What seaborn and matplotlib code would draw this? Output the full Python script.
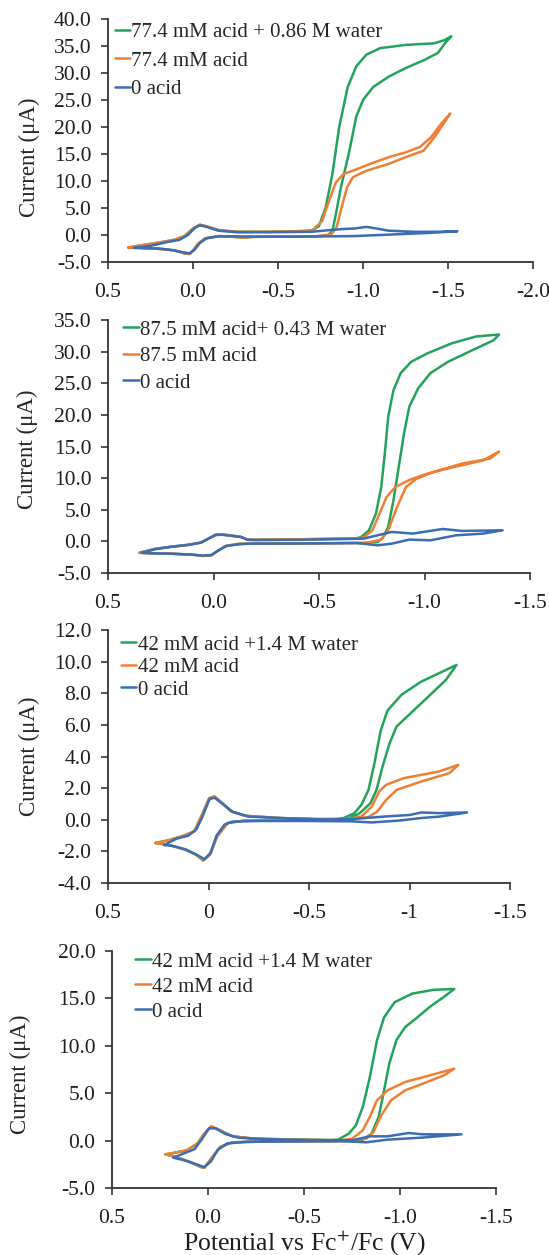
import numpy as np
import pandas as pd
import matplotlib
matplotlib.use("Agg")
import matplotlib.pyplot as plt
import seaborn as sns

# ---------------- data (potential V vs Fc+/Fc, current uA) ----------------
# Panel 1
p1_labels = ["77.4 mM acid + 0.86 M water", "77.4 mM acid", "0 acid"]
p1_fc_fwd_E = [0.38, 0.30, 0.20, 0.11, 0.05, 0.00, -0.04, -0.08, -0.15, -0.26, -0.40, -0.55, -0.66]
p1_fc_fwd_I = [-2.3, -1.9, -1.4, -0.9, -0.2, 1.2, 1.9, 1.6, 0.9, 0.6, 0.6, 0.65, 0.75]
p1_fc_rev_E = [-0.72, -0.50, -0.35, -0.30, -0.22, -0.15, -0.07, -0.03, 0.00, 0.02, 0.05, 0.09, 0.15, 0.23, 0.30, 0.38]
p1_fc_rev_I = [-0.25, -0.3, -0.35, -0.5, -0.3, -0.2, -0.65, -1.6, -2.9, -3.5, -3.4, -3.0, -2.7, -2.5, -2.4, -2.3]
p1_green_E = [-0.70, -0.74, -0.78, -0.82, -0.86, -0.91, -0.96, -1.02, -1.10, -1.25, -1.42, -1.48, -1.52,
              -1.49, -1.44, -1.36, -1.25, -1.15, -1.06, -1.00, -0.96, -0.92, -0.87, -0.84, -0.82, -0.79]
p1_green_I = [0.85, 1.6, 5.0, 11.3, 20.0, 27.4, 31.2, 33.4, 34.6, 35.2, 35.5, 36.1, 36.8,
              35.8, 33.7, 32.4, 30.9, 29.3, 27.4, 25.0, 21.9, 15.6, 8.8, 3.8, 0.7, -0.1]
p1_orange_E = [-0.70, -0.76, -0.80, -0.84, -0.885, -0.94, -1.04, -1.15, -1.25, -1.335, -1.40, -1.46, -1.513,
               -1.48, -1.42, -1.356, -1.25, -1.15, -1.02, -0.94, -0.906, -0.874, -0.843, -0.812]
p1_orange_I = [0.8, 2.6, 6.3, 9.7, 11.3, 11.9, 13.15, 14.4, 15.3, 16.3, 18.1, 20.6, 22.5,
               20.9, 18.1, 15.6, 14.4, 13.15, 11.9, 10.7, 8.8, 5.1, 1.3, 0.1]
p1_blue_E = [0.345, 0.25, 0.15, 0.08, 0.03, -0.01, -0.04, -0.08, -0.15, -0.26, -0.45, -0.70, -0.80, -0.88,
             -0.95, -1.02, -1.08, -1.15, -1.30, -1.45, -1.555,
             -1.40, -1.25, -1.10, -0.95, -0.80, -0.60, -0.40, -0.25, -0.15, -0.08, -0.04, -0.01, 0.02,
             0.06, 0.12, 0.20, 0.28, 0.345]
p1_blue_I = [-2.4, -2.0, -1.3, -0.9, 0.0, 1.3, 1.8, 1.5, 0.8, 0.5, 0.5, 0.6, 0.9, 1.1,
             1.2, 1.5, 1.2, 0.8, 0.6, 0.6, 0.7,
             0.4, 0.2, 0.0, -0.2, -0.25, -0.3, -0.3, -0.25, -0.25, -0.6, -1.5, -2.7, -3.4,
             -3.2, -2.8, -2.5, -2.45, -2.4]

# Panel 2
p2_labels = ["87.5 mM acid+ 0.43 M water", "87.5 mM acid", "0 acid"]
p2_fc_fwd_E = [0.35, 0.28, 0.20, 0.12, 0.06, 0.02, -0.01, -0.04, -0.09, -0.13, -0.16, -0.20, -0.35, -0.55, -0.68]
p2_fc_fwd_I = [-1.8, -1.2, -0.85, -0.55, -0.2, 0.5, 1.05, 1.1, 0.9, 0.7, 0.3, 0.25, 0.3, 0.4, 0.5]
p2_fc_rev_E = [-0.72, -0.55, -0.35, -0.20, -0.12, -0.06, -0.02, 0.01, 0.05, 0.10, 0.20, 0.28, 0.35]
p2_fc_rev_I = [-0.25, -0.3, -0.35, -0.35, -0.4, -0.7, -1.5, -2.2, -2.3, -2.1, -1.95, -1.9, -1.8]
p2_green_E = [-0.70, -0.737, -0.77, -0.795, -0.812, -0.828, -0.853, -0.887, -0.937, -1.012, -1.128, -1.245, -1.353,
              -1.328, -1.228, -1.112, -1.028, -0.97, -0.928, -0.903, -0.878, -0.853, -0.828, -0.803, -0.778]
p2_green_I = [0.7, 1.75, 4.4, 8.6, 13.9, 19.7, 23.9, 26.6, 28.4, 29.7, 31.3, 32.4, 32.7,
              31.8, 30.25, 28.4, 26.6, 24.2, 21.3, 17.1, 11.8, 6.5, 2.3, 0.6, -0.1]
p2_orange_E = [-0.712, -0.753, -0.787, -0.82, -0.862, -0.928, -1.012, -1.145, -1.278, -1.353,
               -1.312, -1.178, -1.045, -0.962, -0.912, -0.87, -0.828, -0.795, -0.745]
p2_orange_I = [0.6, 1.75, 4.4, 7.0, 8.6, 9.7, 10.7, 11.8, 12.8, 14.2,
               13.1, 12.3, 11.0, 9.9, 8.6, 5.45, 1.75, 0.28, -0.09]
p2_blue_E = [0.34, 0.27, 0.20, 0.12, 0.06, 0.02, -0.01, -0.04, -0.09, -0.13, -0.16, -0.20, -0.40, -0.60,
             -0.712, -0.778, -0.845, -0.945, -1.045, -1.087, -1.178, -1.37,
             -1.278, -1.15, -1.028, -0.928, -0.845, -0.778, -0.678, -0.50, -0.30, -0.18, -0.12, -0.06,
             -0.02, 0.01, 0.05, 0.10, 0.20, 0.28, 0.34]
p2_blue_I = [-1.8, -1.2, -0.85, -0.55, -0.2, 0.5, 1.0, 1.05, 0.85, 0.7, 0.25, 0.2, 0.25, 0.35,
             0.44, 0.96, 1.49, 1.23, 1.75, 1.96, 1.65, 1.75,
             1.23, 0.96, 0.17, 0.28, -0.36, -0.62, -0.25, -0.3, -0.35, -0.35, -0.45, -0.75,
             -1.5, -2.15, -2.25, -2.1, -1.95, -1.9, -1.8]

# Panel 3
p3_labels = ["42 mM acid +1.4 M water", "42 mM acid", "0 acid"]
p3_fc_fwd_E = [0.264, 0.20, 0.132, 0.071, 0.036, -0.004, -0.029, -0.069, -0.113, -0.183, -0.358, -0.533, -0.64]
p3_fc_fwd_I = [-1.47, -1.3, -1.05, -0.74, 0.21, 1.37, 1.47, 1.05, 0.53, 0.25, 0.11, 0.04, 0.05]
p3_fc_rev_E = [-0.68, -0.533, -0.358, -0.183, -0.095, -0.043, -0.007, 0.027, 0.062, 0.115, 0.202, 0.264]
p3_fc_rev_I = [-0.05, -0.04, -0.04, -0.04, -0.21, -1.05, -2.21, -2.57, -2.21, -1.89, -1.58, -1.47]
p3_green_E = [-0.673, -0.726, -0.761, -0.796, -0.826, -0.856, -0.89, -0.96, -1.059, -1.164, -1.234,
              -1.181, -1.094, -1.006, -0.936, -0.901, -0.866, -0.836, -0.806, -0.753]
p3_green_I = [0.11, 0.42, 0.95, 1.89, 3.6, 5.6, 6.9, 7.9, 8.74, 9.37, 9.79,
              8.84, 7.79, 6.74, 5.9, 4.84, 3.37, 1.89, 1.05, 0.42]
p3_orange_E = [-0.70, -0.761, -0.813, -0.849, -0.884, -0.971, -1.059, -1.146, -1.243,
               -1.199, -1.059, -0.936, -0.884, -0.84, -0.796]
p3_orange_I = [0.05, 0.21, 0.84, 1.79, 2.21, 2.63, 2.84, 3.05, 3.47,
               2.95, 2.42, 1.89, 1.26, 0.53, 0.17]
p3_blue_E = [0.22, 0.16, 0.10, 0.06, 0.03, -0.005, -0.03, -0.07, -0.12, -0.20, -0.40, -0.60, -0.708, -0.883,
             -1.00, -1.059, -1.15, -1.286,
             -1.15, -1.059, -0.95, -0.813, -0.708, -0.50, -0.25, -0.12, -0.08, -0.04, -0.01, 0.02,
             0.06, 0.12, 0.18, 0.22]
p3_blue_I = [-1.6, -1.2, -1.0, -0.6, 0.2, 1.3, 1.4, 1.0, 0.5, 0.2, 0.08, 0.02, 0.04, 0.21,
             0.3, 0.46, 0.42, 0.46,
             0.2, 0.11, -0.05, -0.17, -0.1, -0.08, -0.08, -0.12, -0.3, -1.0, -2.1, -2.5,
             -2.2, -1.85, -1.65, -1.6]

# Panel 4
p4_labels = ["42 mM acid +1.4 M water", "42 mM acid", "0 acid"]
p4_fc_fwd_E = [0.221, 0.166, 0.111, 0.056, 0.019, -0.017, -0.063, -0.128, -0.238, -0.476, -0.64]
p4_fc_fwd_I = [-1.45, -1.25, -1.03, -0.32, 0.73, 1.5, 1.08, 0.45, 0.21, 0.1, 0.05]
p4_fc_rev_E = [-0.74, -0.50, -0.30, -0.128, -0.063, -0.017, 0.019, 0.038, 0.093, 0.166, 0.221]
p4_fc_rev_I = [-0.05, -0.08, -0.1, -0.18, -0.67, -1.9, -2.86, -2.78, -2.26, -1.73, -1.45]
p4_green_E = [-0.678, -0.733, -0.77, -0.806, -0.843, -0.88, -0.917, -0.972, -1.063, -1.173, -1.283,
              -1.228, -1.155, -1.082, -1.027, -0.981, -0.944, -0.917, -0.889, -0.852, -0.806]
p4_green_I = [0.1, 0.73, 1.6, 3.54, 6.7, 10.58, 13.0, 14.6, 15.5, 15.9, 16.0,
              15.15, 14.1, 12.86, 11.98, 10.58, 8.1, 5.3, 2.5, 0.73, 0.1]
p4_orange_E = [-0.70, -0.751, -0.806, -0.843, -0.88, -0.935, -1.027, -1.155, -1.283,
               -1.228, -1.118, -1.027, -0.953, -0.898, -0.862, -0.825]
p4_orange_I = [0.05, 0.21, 1.08, 2.5, 4.25, 5.3, 6.18, 6.88, 7.59,
               6.88, 6.0, 5.3, 4.25, 2.5, 0.91, 0.21]
p4_blue_E = [0.18, 0.12, 0.07, 0.03, -0.005, -0.04, -0.09, -0.16, -0.30, -0.55, -0.751, -0.843, -0.935,
             -1.045, -1.118, -1.32,
             -1.118, -0.935, -0.825, -0.70, -0.45, -0.20, -0.10, -0.05, -0.015, 0.02, 0.06, 0.12, 0.18]
p4_blue_I = [-1.8, -1.3, -0.9, 0.2, 1.3, 1.3, 0.7, 0.3, 0.15, 0.05, 0.04, 0.45, 0.45,
             0.8, 0.66, 0.66,
             0.32, 0.1, -0.18, -0.05, -0.08, -0.12, -0.3, -1.0, -2.2, -2.8, -2.5, -2.1, -1.8]

# axis ticks
p1_yticks = [-5, 0, 5, 10, 15, 20, 25, 30, 35, 40]
p2_yticks = [-5, 0, 5, 10, 15, 20, 25, 30, 35]
p3_yticks = [-4, -2, 0, 2, 4, 6, 8, 10, 12]
p4_yticks = [-5, 0, 5, 10, 15, 20]
p1_xticks = [0.5, 0.0, -0.5, -1.0, -1.5, -2.0]
p1_xticklabels = ["0.5", "0.0", "-0.5", "-1.0", "-1.5", "-2.0"]
p2_xticks = [0.5, 0.0, -0.5, -1.0, -1.5]
p2_xticklabels = ["0.5", "0.0", "-0.5", "-1.0", "-1.5"]
p3_xticks = [0.5, 0.0, -0.5, -1.0, -1.5]
p3_xticklabels = ["0.5", "0", "-0.5", "-1", "-1.5"]
p4_xticks = [0.5, 0.0, -0.5, -1.0, -1.5]
p4_xticklabels = ["0.5", "0.0", "-0.5", "-1.0", "-1.5"]

# ---------------- styling ----------------
sns.set_style("ticks")
plt.rcParams["font.family"] = ["Liberation Serif", "DejaVu Serif"]
plt.rcParams["mathtext.fontset"] = "stix"

GREEN = "#23a35a"
ORANGE = "#ee7f33"
BLUE = "#3a6db3"
AXC = "#333333"

fig = plt.figure(figsize=(5.49, 12.55), dpi=100)

W, H = 549.0, 1255.0
def ax_at(left, top, right, bottom):
    return fig.add_axes([left / W, 1 - bottom / H, (right - left) / W, (bottom - top) / H])

panels = [
    dict(box=(108, 19, 533, 262), xlim=(0.5, -2.0), ylim=(-5, 40),
         xt=p1_xticks, xtl=p1_xticklabels, yt=p1_yticks, labels=p1_labels,
         fcf=(p1_fc_fwd_E, p1_fc_fwd_I), fcr=(p1_fc_rev_E, p1_fc_rev_I),
         g=(p1_green_E, p1_green_I), o=(p1_orange_E, p1_orange_I), b=(p1_blue_E, p1_blue_I),
         leg=(0.016, 0.985), lsp=0.42, ylab=(-0.16, 0.43)),
    dict(box=(108, 320, 530, 573), xlim=(0.5, -1.5), ylim=(-5, 35),
         xt=p2_xticks, xtl=p2_xticklabels, yt=p2_yticks, labels=p2_labels,
         fcf=(p2_fc_fwd_E, p2_fc_fwd_I), fcr=(p2_fc_rev_E, p2_fc_rev_I),
         g=(p2_green_E, p2_green_I), o=(p2_orange_E, p2_orange_I), b=(p2_blue_E, p2_blue_I),
         leg=(0.036, 1.0), lsp=0.33, ylab=(-0.165, 0.49)),
    dict(box=(108, 630, 510, 883), xlim=(0.5, -1.5), ylim=(-4, 12),
         xt=p3_xticks, xtl=p3_xticklabels, yt=p3_yticks, labels=p3_labels,
         fcf=(p3_fc_fwd_E, p3_fc_fwd_I), fcr=(p3_fc_rev_E, p3_fc_rev_I),
         g=(p3_green_E, p3_green_I), o=(p3_orange_E, p3_orange_I), b=(p3_blue_E, p3_blue_I),
         leg=(0.032, 0.98), lsp=0.14, ylab=(-0.168, 0.50)),
    dict(box=(112, 951, 496, 1188), xlim=(0.5, -1.5), ylim=(-5, 20),
         xt=p4_xticks, xtl=p4_xticklabels, yt=p4_yticks, labels=p4_labels,
         fcf=(p4_fc_fwd_E, p4_fc_fwd_I), fcr=(p4_fc_rev_E, p4_fc_rev_I),
         g=(p4_green_E, p4_green_I), o=(p4_orange_E, p4_orange_I), b=(p4_blue_E, p4_blue_I),
         leg=(0.06, 0.995), lsp=0.26, ylab=(-0.21, 0.48)),
]

LW = 1.8
for p in panels:
    ax = ax_at(*p["box"])
    fE, fI = p["fcf"]
    rE, rI = p["fcr"]
    curves = [
        (list(fE) + list(p["g"][0]) + list(rE), list(fI) + list(p["g"][1]) + list(rI), GREEN, p["labels"][0]),
        (list(fE) + list(p["o"][0]) + list(rE), list(fI) + list(p["o"][1]) + list(rI), ORANGE, p["labels"][1]),
        (list(p["b"][0]), list(p["b"][1]), BLUE, p["labels"][2]),
    ]
    for E, I, c, lab in curves:
        df = pd.DataFrame({"E": E, "I": I})
        sns.lineplot(data=df, x="E", y="I", sort=False, estimator=None, color=c, lw=LW,
                     ax=ax, label=lab)
    ax.set_xlim(*p["xlim"])
    ax.set_ylim(*p["ylim"])
    ax.set_xticks(p["xt"])
    ax.set_xticklabels(p["xtl"])
    ax.set_yticks(p["yt"])
    ax.set_yticklabels([f"{v:.1f}" for v in p["yt"]])
    ax.set_xlabel("")
    ax.set_ylabel("Current (\u03bcA)", fontsize=16.5)
    ax.yaxis.set_label_coords(*p["ylab"])
    for s in ["top", "right"]:
        ax.spines[s].set_visible(False)
    for s in ["left", "bottom"]:
        ax.spines[s].set_color(AXC)
        ax.spines[s].set_linewidth(1.3)
    ax.tick_params(axis="both", colors=AXC, labelcolor="#1e1e1e", labelsize=15.5,
                   length=5, width=1.2, direction="out")
    ax.tick_params(axis="x", pad=10)
    ax.tick_params(axis="y", pad=7)
    h, l = ax.get_legend_handles_labels()
    ax.legend(h, l, loc="upper left", bbox_to_anchor=p["leg"], frameon=False,
              fontsize=15, handlelength=0.75, handletextpad=0.05, labelspacing=p["lsp"],
              borderaxespad=0, borderpad=0)
    ax.set_facecolor("white")

fig.text(304 / W, 1 - 1243 / H, "Potential vs Fc$^{+}$/Fc (V)", ha="center", va="center",
         fontsize=18.5, color="#1e1e1e")

fig.savefig("out.png", dpi=100, facecolor="white")
